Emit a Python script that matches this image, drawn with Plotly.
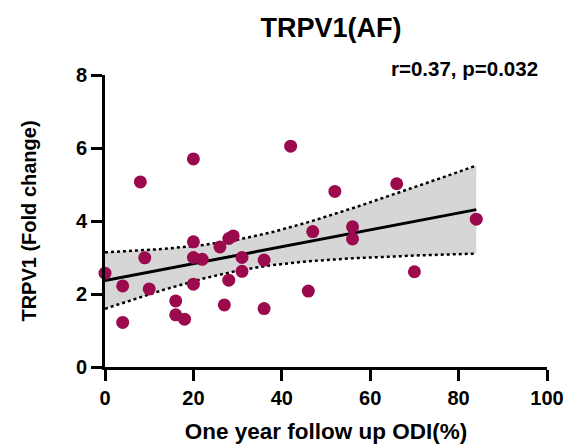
import numpy as np
import plotly.graph_objects as go

odi = [0, 4, 4, 8, 9, 10, 16, 16, 18, 20, 20, 20, 20, 22, 26, 27, 28, 29, 28, 31, 31,
       36, 36, 42, 46, 47, 52, 56, 56, 66, 70, 84]
trpv1 = [2.57, 2.22, 1.22, 5.07, 2.99, 2.14, 1.81, 1.43, 1.31, 5.70, 3.43, 3.00, 2.27,
         2.95, 3.29, 1.70, 3.52, 3.59, 2.38, 3.00, 2.62, 2.93, 1.60, 6.05, 2.08, 3.71,
         4.81, 3.84, 3.51, 5.02, 2.61, 4.05]
x_ticks = [0, 20, 40, 60, 80, 100]
y_ticks = [0, 2, 4, 6, 8]
title = "TRPV1(AF)"
stat_text = "r=0.37, p=0.032"
t_crit = 2.042  # t(0.975, df=30)

x = np.array(odi, float)
y = np.array(trpv1, float)
n = len(x)
slope, intercept = np.polyfit(x, y, 1)
xs = np.linspace(x.min(), x.max(), 100)
ys = intercept + slope * xs
resid = y - (intercept + slope * x)
s = np.sqrt(np.sum(resid**2) / (n - 2))
sxx = np.sum((x - x.mean())**2)
se = s * np.sqrt(1 / n + (xs - x.mean())**2 / sxx)
upper = ys + t_crit * se
lower = ys - t_crit * se

fig = go.Figure()
fig.add_trace(go.Scatter(x=np.concatenate([xs, xs[::-1]]), y=np.concatenate([upper, lower[::-1]]),
                         fill="toself", fillcolor="#D6D6D6", line=dict(width=0),
                         mode="lines", hoverinfo="skip", showlegend=False))
fig.add_trace(go.Scatter(x=xs, y=upper, mode="lines", line=dict(color="black", width=2.5, dash="dot"),
                         showlegend=False))
fig.add_trace(go.Scatter(x=xs, y=lower, mode="lines", line=dict(color="black", width=2.5, dash="dot"),
                         showlegend=False))
fig.add_trace(go.Scatter(x=xs, y=ys, mode="lines", line=dict(color="black", width=3),
                         showlegend=False))
fig.add_trace(go.Scatter(x=odi, y=trpv1, mode="markers", cliponaxis=False,
                         marker=dict(color="#9C0A4E", size=13, line=dict(width=0)),
                         showlegend=False))

font_family = "Liberation Sans, Arial, sans-serif"
fig.update_layout(
    width=565, height=447,
    margin=dict(l=105, r=18, t=75, b=80),
    paper_bgcolor="white", plot_bgcolor="white",
    font=dict(family=font_family, color="black"),
    title=dict(text="<b>%s</b>" % title, x=331 / 565, xanchor="center", y=1 - 28 / 447, yanchor="middle",
               font=dict(size=27, family=font_family)),
    annotations=[dict(text="<b>%s</b>" % stat_text, xref="paper", yref="paper", x=0.984, y=1.022,
                      xanchor="right", yanchor="middle", showarrow=False,
                      font=dict(size=20.5, family=font_family))],
)
fig.update_xaxes(range=[0, 100], tickvals=x_ticks, ticktext=["<b>%d</b>" % v for v in x_ticks],
                 showgrid=False, zeroline=False, automargin=False,
                 showline=True, linecolor="black", linewidth=3,
                 ticks="outside", ticklen=11, tickwidth=3, tickcolor="black",
                 tickfont=dict(size=20, family=font_family),
                 title=dict(text="<b>One year follow up ODI(%)</b>", font=dict(size=22.5), standoff=16))
fig.update_yaxes(range=[0, 8], tickvals=y_ticks, ticktext=["<b>%d</b>" % v for v in y_ticks],
                 showgrid=False, zeroline=False, automargin=False,
                 showline=True, linecolor="black", linewidth=3,
                 ticks="outside", ticklen=11, tickwidth=3, tickcolor="black",
                 tickfont=dict(size=20, family=font_family),
                 title=dict(text="<b>TRPV1 (Fold change)</b>", font=dict(size=20), standoff=34))

fig.write_html("out.html")
